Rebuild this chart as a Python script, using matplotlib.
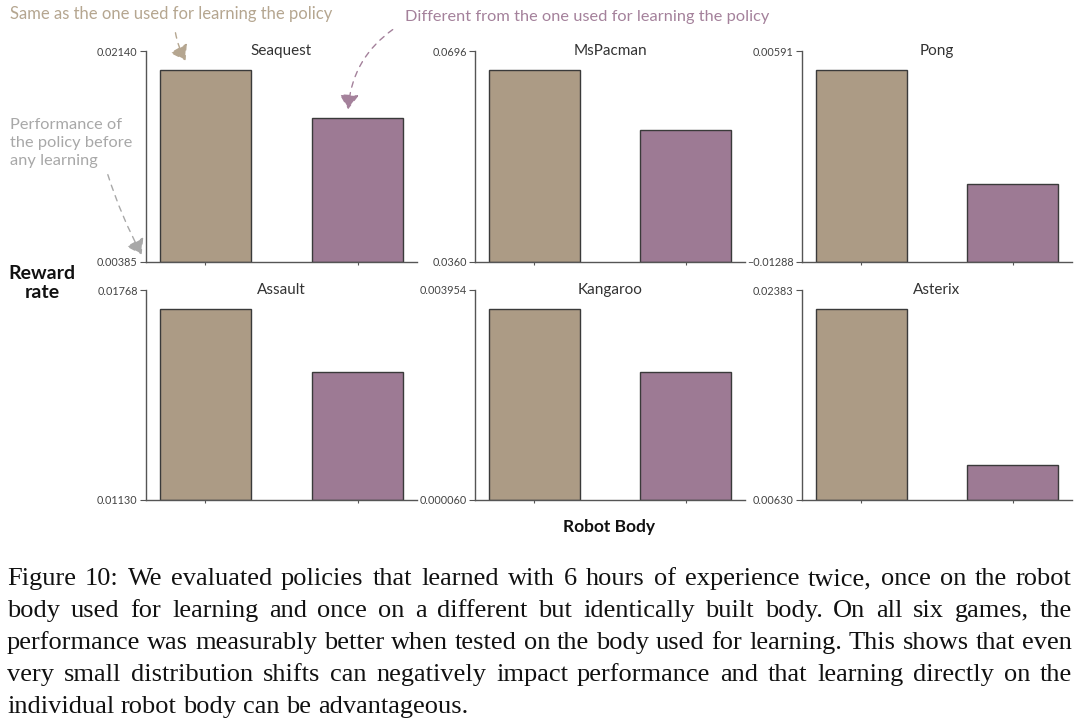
import matplotlib
matplotlib.use('Agg')
import matplotlib.pyplot as plt
import numpy as np

plt.rcParams['font.family'] = ['Lato', 'DejaVu Sans']

games = ['Seaquest', 'MsPacman', 'Pong', 'Assault', 'Kangaroo', 'Asterix']
y_low = [0.00385, 0.0360, -0.01288, 0.01130, 0.000060, 0.00630]
y_high = [0.02140, 0.0696, 0.00591, 0.01768, 0.003954, 0.02383]
low_labels = ['0.00385', '0.0360', '\u22120.01288', '0.01130', '0.000060', '0.00630']
high_labels = ['0.02140', '0.0696', '0.00591', '0.01768', '0.003954', '0.02383']
same_body = [0.01982, 0.06658, 0.00422, 0.01710, 0.003602, 0.02224]
diff_body = [0.01583, 0.05702, -0.00593, 0.01519, 0.002435, 0.00923]

caption = [
    "Figure 10: We evaluated policies that learned with 6 hours of experience twice, once on the robot",
    "body used for learning and once on a different but identically built body.  On all six games, the",
    "performance was measurably better when tested on the body used for learning. This shows that even",
    "very small distribution shifts can negatively impact performance and that learning directly on the",
    "individual robot body can be advantageous.",
]

tan = '#ac9b85'
purple = '#9d7a94'
W, H = 1080, 727
cap_size = 19

fig = plt.figure(figsize=(W / 100, H / 100), dpi=100)

lefts = [146, 475, 802]
rights = [417, 745, 1072]
rows = [(51, 262), (290, 500)]

for i, g in enumerate(games):
    r, c = divmod(i, 3)
    top, bot = rows[r]
    ax = fig.add_axes([lefts[c] / W, 1 - bot / H, (rights[c] - lefts[c]) / W, (bot - top) / H])
    base = y_low[i]
    ax.bar([0, 1], [same_body[i] - base, diff_body[i] - base], bottom=base, width=0.6,
           color=[tan, purple], edgecolor='#3a3a3a', linewidth=1.0)
    ax.set_xlim(-0.39, 1.39)
    ax.set_ylim(y_low[i], y_high[i])
    ax.set_yticks([y_low[i], y_high[i]])
    ax.set_yticklabels([low_labels[i], high_labels[i]], fontsize=7.8, color='#444444')
    ax.set_xticks([0, 1])
    ax.set_xticklabels([])
    ax.tick_params(axis='y', length=4, width=0.8, color='#555555', pad=2)
    ax.tick_params(axis='x', length=2, width=0.8, color='#555555')
    for s in ['top', 'right']:
        ax.spines[s].set_visible(False)
    for s in ['left', 'bottom']:
        ax.spines[s].set_color('#555555')
        ax.spines[s].set_linewidth(1.0)
    ax.text(0.5, 1.0, g, transform=ax.transAxes, ha='center', va='center',
            fontsize=11, color='#333333')

def px(x, y):
    return (x, H - y)

fig.text(42 / W, 1 - 283 / H, 'Reward\nrate', ha='center', va='center',
         fontsize=14, fontweight='bold', linespacing=1.2, color='#111111')
fig.text(609 / W, 1 - 527 / H, 'Robot Body', ha='center', va='center',
         fontsize=12.5, fontweight='bold', color='#111111')

# annotations
fig.text(10 / W, 1 - 14 / H, 'Same as the one used for learning the policy', ha='left',
         va='center', fontsize=12, color='#b5a690')
fig.text(405 / W, 1 - 17 / H, 'Different from the one used for learning the policy', ha='left',
         va='center', fontsize=11.8, color='#a4819b')
fig.text(10 / W, 1 - 143 / H, 'Performance of\nthe policy before\nany learning', ha='left',
         va='center', fontsize=11.8, color='#a8a8a8', linespacing=1.35)

arrows = [
    ((175, 30), (187, 63), '#b5a690', 0.1),
    ((395, 28), (348, 112), '#a4819b', 0.25),
    ((107, 172), (143, 257), '#a8a8a8', 0.05),
]
for start, end, col, rad in arrows:
    fig.add_artist(matplotlib.patches.FancyArrowPatch(
        px(*start), px(*end), transform=None, arrowstyle='-|>,head_length=6,head_width=4',
        connectionstyle='arc3,rad=%s' % rad, color=col, linestyle=(0, (4, 4)),
        linewidth=1.0, mutation_scale=1.5))

# justified caption
renderer = fig.canvas.get_renderer()
x0, x1 = 7, 1072
baselines = [585, 617, 649, 681, 713]
probe = fig.text(0, 0, 'a a', fontsize=cap_size, family='Liberation Serif')
probe1 = fig.text(0, 0, 'aa', fontsize=cap_size, family='Liberation Serif')
space_w = probe.get_window_extent(renderer).width - probe1.get_window_extent(renderer).width
probe.remove()
probe1.remove()
for k, line in enumerate(caption):
    words = line.split()
    texts = [fig.text(0, 0, w, fontsize=cap_size, family='Liberation Serif', va='baseline',
                      ha='left', color='#111111', transform=None) for w in words]
    widths = [t.get_window_extent(renderer).width for t in texts]
    if k < len(caption) - 1:
        gap = (x1 - x0 - sum(widths)) / (len(words) - 1)
    else:
        gap = space_w
    x = x0
    for t, w in zip(texts, widths):
        t.set_position((round(x), H - baselines[k]))
        x += w + gap

fig.savefig('out.png', dpi=100)
